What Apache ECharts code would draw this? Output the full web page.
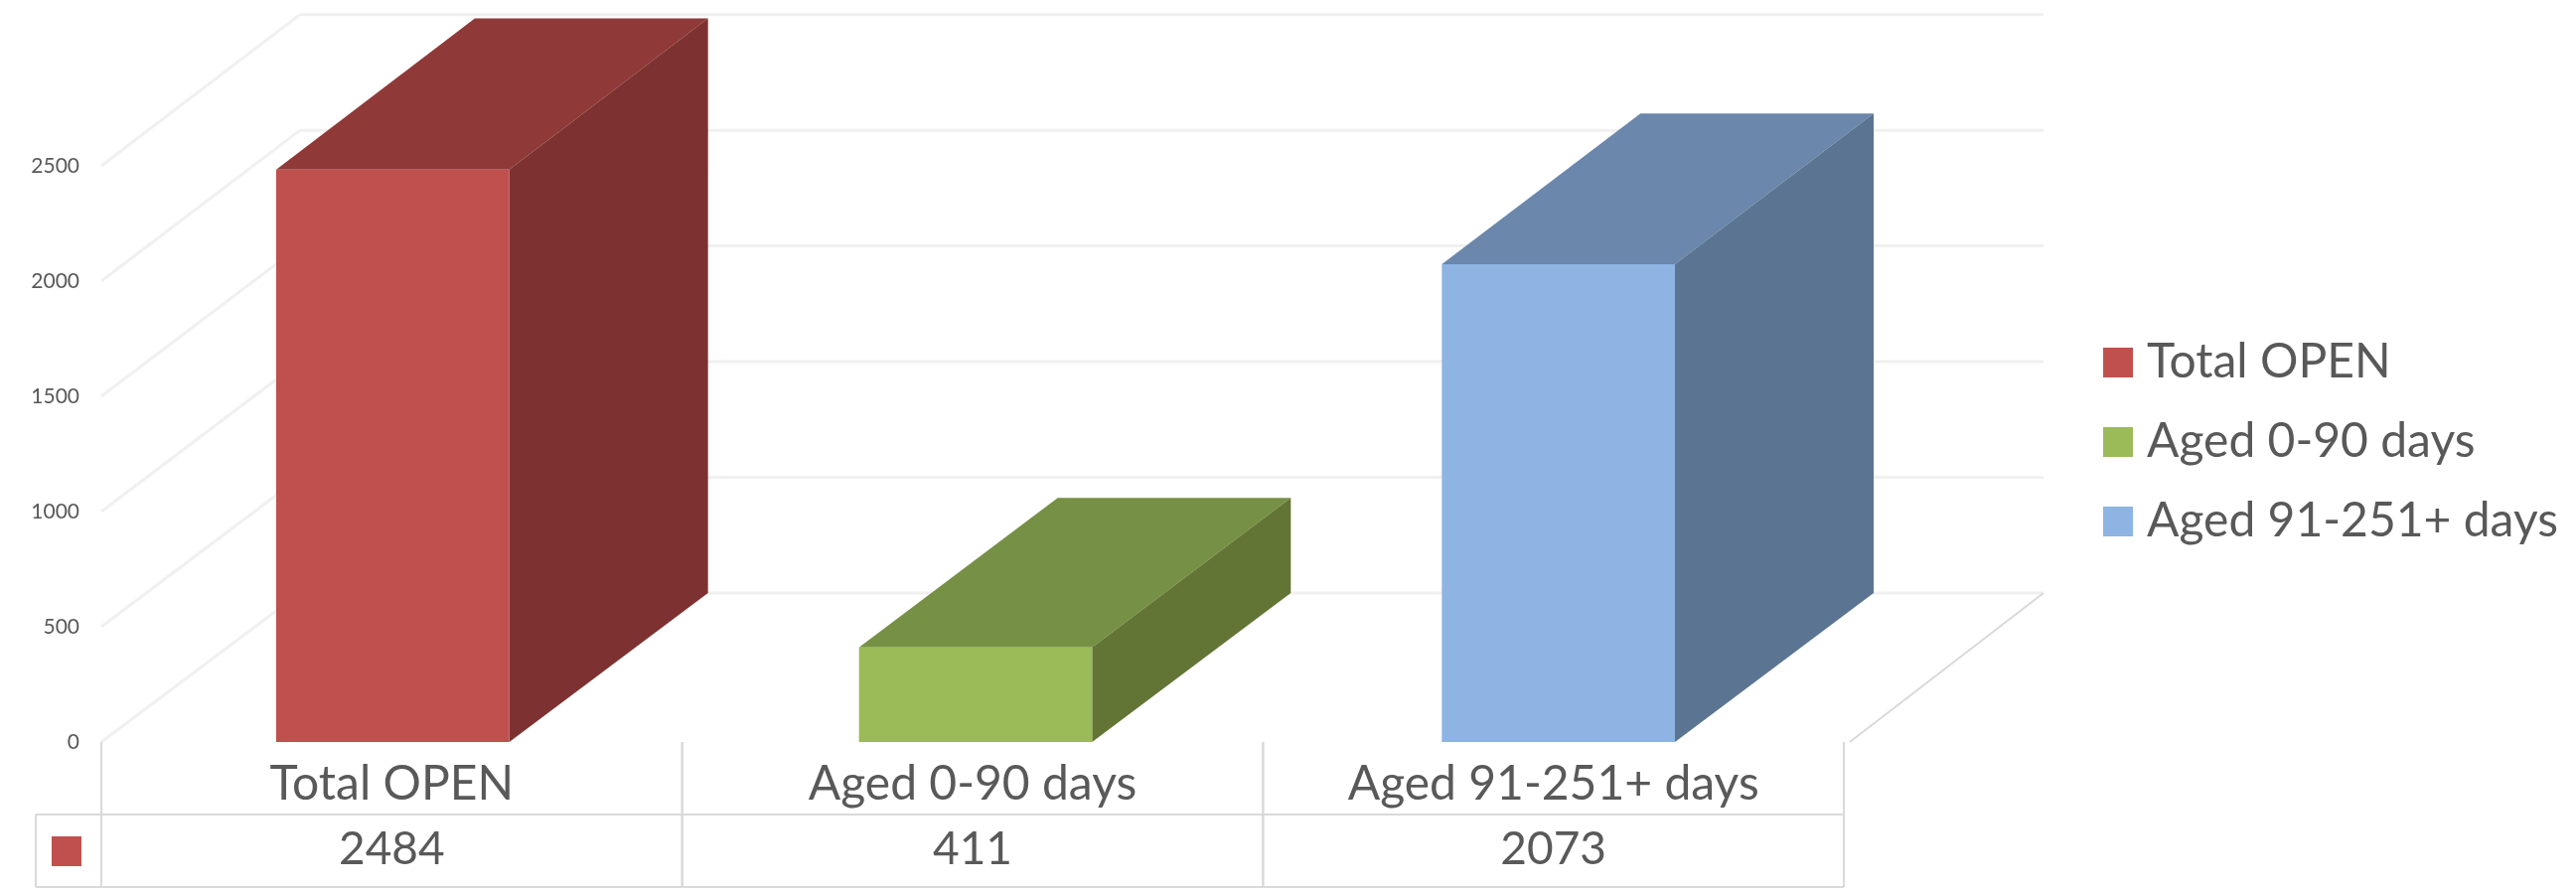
<!DOCTYPE html>
<html>
<head>
<meta charset="utf-8">
<title>Open items by age</title>
<style>
html, body { margin: 0; padding: 0; background: #fff; }
#chart { width: 2593px; height: 897px; }
</style>
<script src="https://cdn.jsdelivr.net/npm/echarts@6/dist/echarts.min.js"></script>
</head>
<body>
<div id="chart"></div>
<script>
const categories = ['Total OPEN', 'Aged 0-90 days', 'Aged 91-251+ days'];
const openCounts = [2484, 411, 2073];
const yTicks = [0, 500, 1000, 1500, 2000, 2500];
const frontColors = ['#C0504D', '#9BBB59', '#8DB4E2'];
const topColors = ['#8F3A38', '#769045', '#6B87AB'];
const sideColors = ['#7D3130', '#627534', '#5B7492'];

const textColor = '#595959';
const fontName = 'Lato';
const depthX = 200;
const depthY = 150;
const rowLine = '#D9D9D9';

const chart = echarts.init(document.getElementById('chart'));

// the back plane comes out a touch taller than the front one
const backY = (y, base) => base - depthY - (base - y) * 1.004;

// walls and floor behind the bars
const renderWall = (params, api) => {
  const box = params.coordSys;
  const v = api.value(1);
  const y = api.coord([0, v])[1];
  const base = api.coord([0, 0])[1];
  const left = box.x;
  const backLeft = left + depthX;
  const backRight = box.x + box.width + depthX - 5;
  const by = backY(y, base);
  const children = [
    { type: 'line', shape: { x1: left, y1: y, x2: backLeft, y2: by },
      style: { stroke: '#F0F0F0', lineWidth: 3 } },
    { type: 'line', shape: { x1: backLeft, y1: by, x2: backRight, y2: by },
      style: { stroke: '#F0F0F0', lineWidth: 3 } }
  ];
  if (v === 0) {
    children.push({ type: 'line',
      shape: { x1: box.x + box.width, y1: y, x2: backRight, y2: by },
      style: { stroke: rowLine, lineWidth: 2 } });
  }
  return { type: 'group', children };
};

// front, top and side of one bar
const renderBar = (idx) => (params, api) => {
  const w = api.size([1, 0])[0] * 0.4;
  const p = api.coord([api.value(0), api.value(1)]);
  const base = api.coord([api.value(0), 0])[1];
  const l = p[0] - w / 2, r = p[0] + w / 2, t = p[1];
  const bt = backY(t, base);
  return {
    type: 'group',
    children: [
      { type: 'polygon',
        shape: { points: [[l, t], [l + depthX, bt], [r + depthX, bt], [r, t]] },
        style: { fill: topColors[idx] } },
      { type: 'polygon',
        shape: { points: [[r, t], [r + depthX, bt], [r + depthX, base - depthY], [r, base]] },
        style: { fill: sideColors[idx] } },
      { type: 'rect',
        shape: { x: l, y: t, width: r - l, height: base - t },
        style: { fill: frontColors[idx] } }
    ]
  };
};

// data table under the plot
const renderTable = (params, api) => {
  const i = api.value(0);
  const box = params.coordSys;
  const band = api.size([1, 0])[0];
  const cx = api.coord([i, 0])[0];
  const base = api.coord([i, 0])[1];
  const l = cx - band / 2, r = cx + band / 2;
  const rowTop = base + 73, rowBottom = base + 146;
  const line = (x1, y1, x2, y2) => ({ type: 'line', shape: { x1, y1, x2, y2 },
    style: { stroke: rowLine, lineWidth: 2 } });
  const children = [
    line(l, base, l, rowBottom),
    line(r, base, r, rowBottom),
    line(l, rowTop, r, rowTop),
    line(l, rowBottom, r, rowBottom),
    { type: 'text', x: cx, y: base + 108,
      style: { text: String(api.value(1)), fill: textColor, font: '46px ' + fontName,
        align: 'center', verticalAlign: 'middle' } }
  ];
  if (i === 0) {
    children.push(
      line(box.x - 66, rowTop, l, rowTop),
      line(box.x - 66, rowBottom, l, rowBottom),
      line(box.x - 66, rowTop, box.x - 66, rowBottom),
      { type: 'rect', shape: { x: box.x - 50, y: rowTop + 22, width: 30, height: 30 },
        style: { fill: frontColors[0] } }
    );
  }
  return { type: 'group', children };
};

const barSeries = categories.map((name, i) => ({
  name,
  type: 'custom',
  xAxisIndex: 0,
  yAxisIndex: 0,
  z: 3,
  itemStyle: { color: frontColors[i] },
  renderItem: renderBar(i),
  encode: { x: 0, y: 1 },
  data: [[name, openCounts[i]]]
}));

const option = {
  animation: false,
  backgroundColor: '#fff',
  grid: [
    { left: 102, top: 167, width: 1760, height: 580 },
    { left: 102, top: 167, width: 1754, height: 580 }
  ],
  xAxis: [
    { type: 'category', gridIndex: 0, data: categories,
      axisLine: { show: false }, axisTick: { show: false }, axisLabel: { show: false } },
    { type: 'category', gridIndex: 1, data: categories,
      axisLine: { show: false }, axisTick: { show: false },
      axisLabel: { color: textColor, fontFamily: fontName, fontSize: 48, margin: 43,
        verticalAlign: 'middle', interval: 0 } }
  ],
  yAxis: [
    { type: 'value', gridIndex: 0, min: 0, max: 2500, interval: 500,
      axisLine: { show: false }, axisTick: { show: false }, splitLine: { show: false },
      axisLabel: { color: textColor, fontFamily: fontName, fontSize: 21, margin: 22,
        formatter: (v) => String(v) } },
    { type: 'value', gridIndex: 1, min: 0, max: 2500, interval: 500, show: false }
  ],
  legend: {
    orient: 'vertical',
    left: 2112,
    top: 333,
    itemWidth: 30,
    itemHeight: 30,
    itemGap: 26,
    icon: 'rect',
    data: categories,
    textStyle: { color: textColor, fontFamily: fontName, fontSize: 48, lineHeight: 54,
      padding: [0, 0, 0, 9] }
  },
  series: [
    { type: 'custom', xAxisIndex: 0, yAxisIndex: 0, z: 1, silent: true,
      renderItem: renderWall, encode: { x: 0, y: 1 },
      data: yTicks.map((v) => [categories[0], v]) },
    ...barSeries,
    { type: 'custom', xAxisIndex: 1, yAxisIndex: 1, z: 2, silent: true,
      renderItem: renderTable, encode: { x: 0, y: 1 },
      data: categories.map((c, i) => [c, openCounts[i]]) }
  ]
};

chart.setOption(option);
</script>
</body>
</html>
